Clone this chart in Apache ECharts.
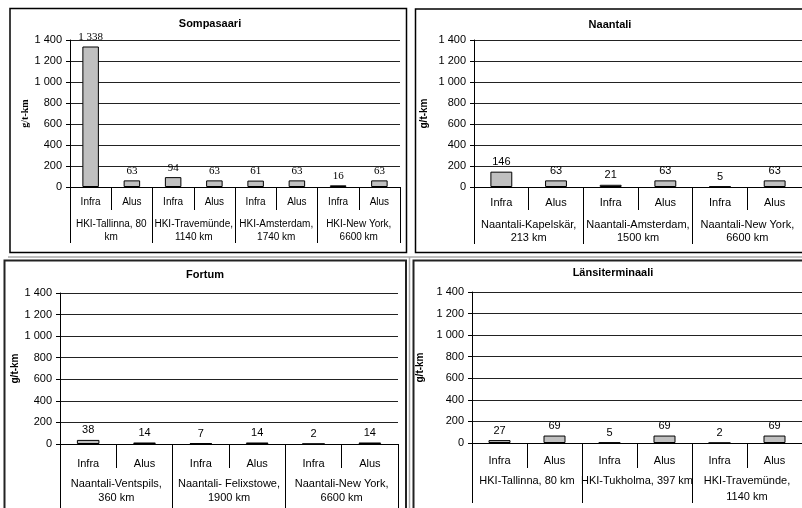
<!DOCTYPE html>
<html>
<head>
<meta charset="utf-8">
<script src="https://cdn.jsdelivr.net/npm/echarts@6/dist/echarts.min.js"></script>
<style>
html,body{margin:0;padding:0;background:#fff;}
#c{width:802px;height:508px;}
</style>
</head>
<body>
<div id="c"></div>
<script>
// ---- data ----
const subCategories = ['Infra', 'Alus'];
const yTicks = [0, 200, 400, 600, 800, 1000, 1200, 1400];

const sompaTitle = 'Sompasaari';
const sompaGroups = ['HKI-Tallinna, 80\nkm', 'HKI-Travemünde,\n1140 km', 'HKI-Amsterdam,\n1740 km', 'HKI-New York,\n6600 km'];
const sompaValues = [1338, 63, 94, 63, 61, 63, 16, 63];

const naantaliTitle = 'Naantali';
const naantaliGroups = ['Naantali-Kapelskär,\n213 km', 'Naantali-Amsterdam,\n1500 km', 'Naantali-New York,\n6600 km'];
const naantaliValues = [146, 63, 21, 63, 5, 63];

const fortumTitle = 'Fortum';
const fortumGroups = ['Naantali-Ventspils,\n360 km', 'Naantali- Felixstowe,\n1900 km', 'Naantali-New York,\n6600 km'];
const fortumValues = [38, 14, 7, 14, 2, 14];

const lansiTitle = 'Länsiterminaali';
const lansiGroups = ['HKI-Tallinna, 80 km', 'HKI-Tukholma, 397 km', 'HKI-Travemünde,\n1140 km'];
const lansiValues = [27, 69, 5, 69, 2, 69];

const yName = 'g/t-km';

// ---- helpers ----
function fmt(v) { return String(v).replace(/\B(?=(\d{3})+(?!\d))/g, ' '); }
function subCats(groups) { const out = []; groups.forEach(() => subCategories.forEach(s => out.push(s))); return out; }

const SANS = 'Arial, "Liberation Sans", sans-serif';
const SERIF = '"Times New Roman", "Liberation Serif", serif';

const panels = [
  { title: sompaTitle, groups: sompaGroups, values: sompaValues, grid: { left: 70, top: 40, width: 330, height: 147 },
    titleX: 210, titleY: 18, subMargin: 8.5, subTick: 23, grpMargin: 30.5, grpTick: 56, grpLH: 13, xFont: 10, nameGap: 40, nameFont: SERIF, labelFont: SERIF },
  { title: naantaliTitle, groups: naantaliGroups, values: naantaliValues, grid: { left: 474, top: 40, width: 333, height: 147 },
    titleX: 610, titleY: 19, subMargin: 9, subTick: 23, grpMargin: 31, grpTick: 57, grpLH: 13, xFont: 11, nameGap: 45, nameFont: SANS, labelFont: SANS },
  { title: fortumTitle, groups: fortumGroups, values: fortumValues, grid: { left: 60, top: 293, width: 338, height: 151 },
    titleX: 205, titleY: 269, subMargin: 13, subTick: 24, grpMargin: 32.5, grpTick: 70, grpLH: 14, xFont: 11, nameGap: 36, nameFont: SANS, labelFont: SANS },
  { title: lansiTitle, groups: lansiGroups, values: lansiValues, grid: { left: 472, top: 292, width: 334, height: 151 },
    titleX: 613, titleY: 267, subMargin: 11.5, subTick: 25, grpMargin: 30, grpTick: 60, grpLH: 16, xFont: 11, nameGap: 47, nameFont: SANS, labelFont: SANS }
];

const option = {
  animation: false,
  backgroundColor: '#fff',
  title: [], grid: [], xAxis: [], yAxis: [], series: [],
  graphic: [
    { type: 'line', shape: { x1: 8, y1: 257, x2: 802, y2: 257 }, style: { stroke: '#aaa', lineWidth: 1.5 } },
    { type: 'line', shape: { x1: 409.5, y1: 257, x2: 409.5, y2: 508 }, style: { stroke: '#aaa', lineWidth: 1.5 } },
    { type: 'rect', shape: { x: 10, y: 8.5, width: 396.5, height: 244 }, style: { fill: 'none', stroke: '#000', lineWidth: 1.5 } },
    { type: 'rect', shape: { x: 415.5, y: 9, width: 420, height: 243.5 }, style: { fill: 'none', stroke: '#000', lineWidth: 1.5 } },
    { type: 'rect', shape: { x: 4.5, y: 260.5, width: 401.5, height: 270 }, style: { fill: 'none', stroke: '#222', lineWidth: 2 } },
    { type: 'rect', shape: { x: 413.5, y: 260.5, width: 420, height: 270 }, style: { fill: 'none', stroke: '#222', lineWidth: 2 } }
  ]
};

panels.forEach((p, i) => {
  option.title.push({ text: p.title, left: p.titleX, top: p.titleY, textAlign: 'center', padding: 0,
    textStyle: { fontFamily: SANS, fontSize: 11, fontWeight: 'bold', color: '#000' } });
  option.grid.push(Object.assign({ containLabel: false }, p.grid));
  option.yAxis.push({
    type: 'value', gridIndex: i, min: 0, max: 1400, interval: 200,
    name: yName, nameLocation: 'middle', nameRotate: 90, nameGap: p.nameGap,
    nameTextStyle: { fontFamily: p.nameFont, fontSize: 10, fontWeight: 'bold', color: '#000' },
    axisLine: { show: true, lineStyle: { color: '#000', width: 1 } },
    axisTick: { show: true, length: 4, lineStyle: { color: '#000' } },
    axisLabel: { margin: 8, fontFamily: SANS, fontSize: 11, color: '#000',
      formatter: v => yTicks.indexOf(v) >= 0 ? fmt(v) : '' },
    splitLine: { show: true, lineStyle: { color: '#222', width: 1 } }
  });
  option.xAxis.push({
    type: 'category', gridIndex: i, position: 'bottom', data: subCats(p.groups), boundaryGap: true,
    axisLine: { show: true, onZero: false, lineStyle: { color: '#000', width: 1 } },
    axisTick: { show: true, interval: 0, length: p.subTick, lineStyle: { color: '#000' } },
    axisLabel: { interval: 0, margin: p.subMargin, fontFamily: SANS, fontSize: p.xFont, lineHeight: 13, color: '#000' },
    splitLine: { show: false }
  });
  option.xAxis.push({
    type: 'category', gridIndex: i, position: 'bottom', data: p.groups, boundaryGap: true,
    axisLine: { show: false },
    axisTick: { show: true, interval: 0, length: p.grpTick, lineStyle: { color: '#000' } },
    axisLabel: { interval: 0, margin: p.grpMargin, fontFamily: SANS, fontSize: p.xFont, lineHeight: p.grpLH, color: '#000' },
    splitLine: { show: false }
  });
  option.series.push({
    type: 'bar', xAxisIndex: 2 * i, yAxisIndex: i, data: p.values, barWidth: '40%',
    itemStyle: { color: '#c0c0c0', borderColor: '#000', borderWidth: 1 },
    label: { show: true, position: 'top', distance: 4, fontFamily: p.labelFont, fontSize: 11, color: '#000',
      formatter: d => fmt(d.value) }
  });
});

const chart = echarts.init(document.getElementById('c'), null, { renderer: 'canvas' });
chart.setOption(option);
</script>
</body>
</html>
